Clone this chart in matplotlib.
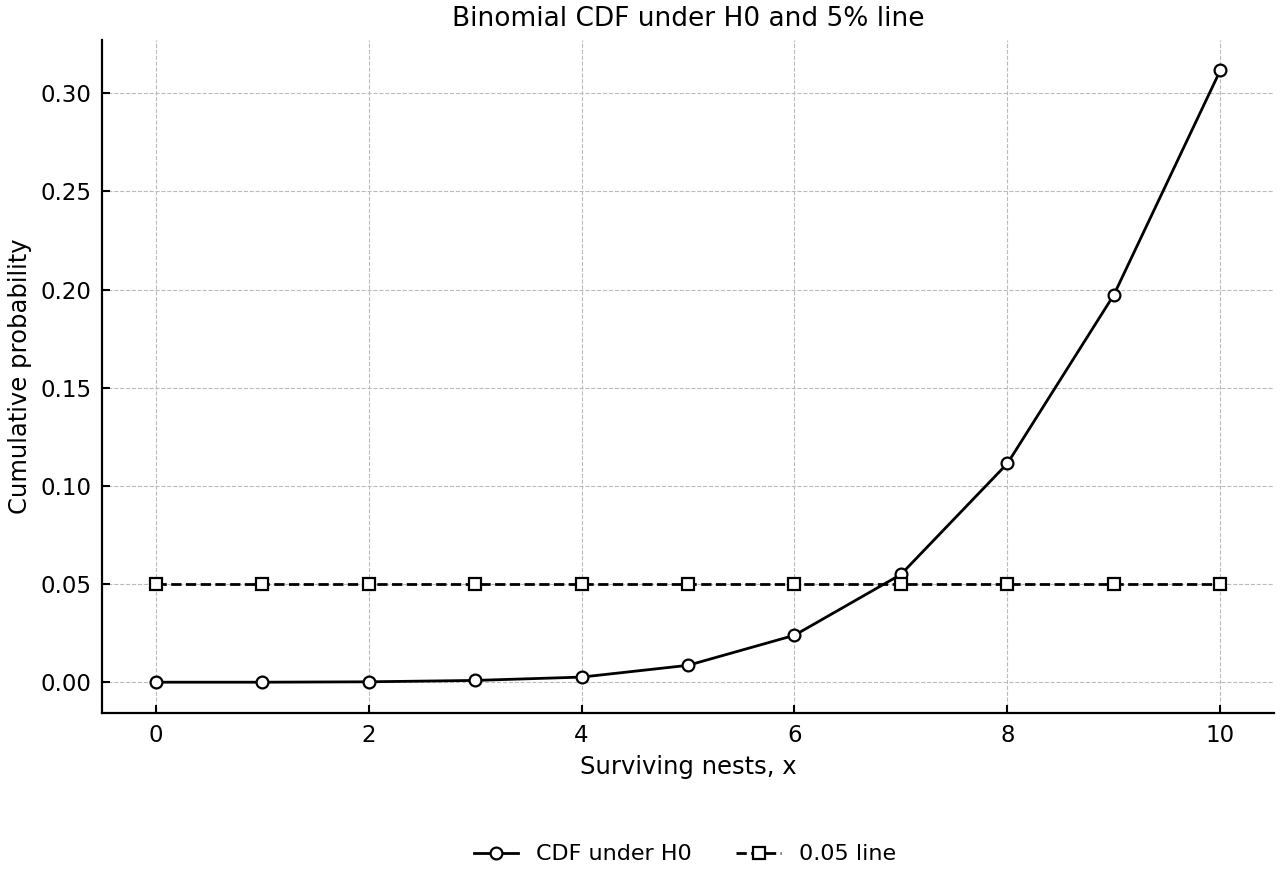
import numpy as np
import matplotlib.pyplot as plt

# Values
x = np.arange(0, 11)
cdf_h0 = [0.0000, 0.0000, 0.0002, 0.0009, 0.0026, 0.0086, 0.0239, 0.0549, 0.1114, 0.1973, 0.3117]
alpha_line = [0.05] * 11

fig, ax = plt.subplots(figsize=(12.8, 8.8), dpi=100)

ax.plot(x, cdf_h0, '-', color='black', linewidth=2, marker='o', markersize=8.5,
        markerfacecolor='white', markeredgecolor='black', markeredgewidth=1.6,
        label="CDF under H0")
ax.plot(x, alpha_line, '--', color='black', linewidth=2, marker='s', markersize=8.5,
        markerfacecolor='white', markeredgecolor='black', markeredgewidth=1.6,
        label="0.05 line")

ax.set_title("Binomial CDF under H0 and 5% line", fontsize=19, pad=10)
ax.set_xlabel("Surviving nests, x", fontsize=17.5, labelpad=6)
ax.set_ylabel("Cumulative probability", fontsize=17.5, labelpad=6)
ax.tick_params(direction='in', labelsize=16.5, width=1.5, length=6, pad=8)
ax.grid(True, linestyle='--', color='#bbbbbb', linewidth=0.8)

for side in ['top', 'right']:
    ax.spines[side].set_visible(False)
for side in ['left', 'bottom']:
    ax.spines[side].set_linewidth(1.6)

fig.legend(loc='lower center', ncol=2, frameon=False, fontsize=16,
           bbox_to_anchor=(0.535, -0.005), columnspacing=2.0)

plt.subplots_adjust(left=0.08, right=0.995, top=0.955, bottom=0.19)
plt.savefig("out.png")
